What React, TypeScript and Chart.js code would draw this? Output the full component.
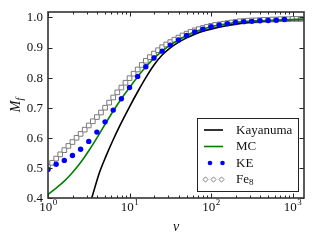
import React, { useEffect, useRef } from "react";
import { Chart, registerables } from "chart.js";
Chart.register(...registerables);

// ---- data ----
const kayanumaV = [3.44, 4.27, 5.16, 6.24, 7.53, 10, 12.59, 15.85, 19.95, 25.12, 31.62, 39.81, 50.12, 63.1, 79.43, 100, 158.5, 251.2, 398.1, 631, 1000, 1380];
const kayanumaM = [0.4, 0.484, 0.54, 0.591, 0.638, 0.703, 0.753, 0.8, 0.842, 0.875, 0.899, 0.917, 0.932, 0.944, 0.954, 0.961, 0.973, 0.982, 0.987, 0.99, 0.992, 0.993];

const mcV = [1, 1.259, 1.585, 1.995, 2.512, 3.162, 3.981, 5.012, 6.31, 7.943, 10, 12.59, 15.85, 19.95, 25.12, 31.62, 39.81, 50.12, 63.1, 79.43, 100, 158.5, 251.2, 398.1, 631, 1000, 1380];
const mcM = [0.412, 0.433, 0.456, 0.485, 0.518, 0.557, 0.6, 0.645, 0.689, 0.73, 0.767, 0.803, 0.836, 0.864, 0.888, 0.908, 0.925, 0.94, 0.952, 0.961, 0.969, 0.979, 0.986, 0.989, 0.991, 0.993, 0.994];

const keV = [1, 1.259, 1.585, 1.995, 2.512, 3.162, 3.981, 5.012, 6.31, 7.943, 10, 12.59, 15.85, 19.95, 25.12, 31.62, 39.81, 50.12, 63.1, 79.43, 100, 125.9, 158.5, 199.5, 251.2, 316.2, 398.1, 501.2, 631, 794.3];
const keM = [0.495, 0.512, 0.525, 0.541, 0.562, 0.588, 0.619, 0.653, 0.692, 0.73, 0.767, 0.804, 0.836, 0.865, 0.888, 0.908, 0.925, 0.94, 0.952, 0.961, 0.969, 0.975, 0.979, 0.983, 0.986, 0.987, 0.989, 0.99, 0.991, 0.993];

const fe8V = [1, 1.122, 1.259, 1.413, 1.585, 1.778, 1.995, 2.239, 2.512, 2.818, 3.162, 3.548, 3.981, 4.467, 5.012, 5.623, 6.31, 7.079, 7.943, 8.913,
  10, 11.22, 12.59, 14.13, 15.85, 17.78, 19.95, 22.39, 25.12, 28.18, 31.62, 35.48, 39.81, 44.67, 50.12, 56.23, 63.1, 70.79, 79.43, 89.13,
  100, 112.2, 125.9, 141.3, 158.5, 177.8, 199.5, 223.9, 251.2, 281.8, 316.2, 354.8, 398.1, 446.7, 501.2, 562.3, 631, 707.9, 794.3, 891.3,
  1000, 1122, 1259];
const fe8M = [0.503, 0.517, 0.531, 0.545, 0.559, 0.573, 0.586, 0.6, 0.613, 0.627, 0.641, 0.655, 0.669, 0.684, 0.7, 0.717, 0.734, 0.751, 0.767, 0.783,
  0.798, 0.813, 0.827, 0.842, 0.856, 0.868, 0.88, 0.891, 0.901, 0.91, 0.918, 0.926, 0.933, 0.94, 0.946, 0.952, 0.957, 0.961, 0.965, 0.969,
  0.972, 0.975, 0.977, 0.979, 0.981, 0.983, 0.985, 0.987, 0.988, 0.989, 0.99, 0.99, 0.991, 0.992, 0.992, 0.993, 0.993, 0.994, 0.994, 0.994,
  0.995, 0.995, 0.995];

const xMajor = [1, 10, 100, 1000];
const xMajorExp = ["0", "1", "2", "3"];
const xMinor = [2, 3, 4, 5, 6, 7, 8, 9, 20, 30, 40, 50, 60, 70, 80, 90, 200, 300, 400, 500, 600, 700, 800, 900];
const yTicks = [0.4, 0.5, 0.6, 0.7, 0.8, 0.9, 1.0];
const yTickLabels = ["0.4", "0.5", "0.6", "0.7", "0.8", "0.9", "1.0"];
const seriesNames = ["Kayanuma", "MC", "KE", "Fe"];

const FONT = "'Liberation Serif', 'Times New Roman', serif";

const pts = (xs: number[], ys: number[]) => xs.map((x, i) => ({ x, y: ys[i] }));

const mplPlugin = {
  id: "mplDecor",
  afterDatasetsDraw(chart: any) {
    const { ctx, chartArea: a, scales } = chart;
    const x = scales.x, y = scales.y;
    ctx.save();
    const seg = (x1: number, y1: number, x2: number, y2: number) => {
      ctx.beginPath(); ctx.moveTo(x1, y1); ctx.lineTo(x2, y2); ctx.stroke();
    };
    ctx.strokeStyle = "#222";
    ctx.lineWidth = 1;
    for (const v of xMajor) {
      const px = Math.round(x.getPixelForValue(v)) + 0.5;
      seg(px, a.bottom, px, a.bottom - 4.5);
      seg(px, a.top, px, a.top + 4.5);
    }
    for (const v of xMinor) {
      const px = Math.round(x.getPixelForValue(v)) + 0.5;
      seg(px, a.bottom, px, a.bottom - 2.5);
      seg(px, a.top, px, a.top + 2.5);
    }
    for (const v of yTicks) {
      const py = Math.round(y.getPixelForValue(v)) + 0.5;
      seg(a.left, py, a.left + 4.5, py);
      seg(a.right, py, a.right - 4.5, py);
    }
    // legend
    const lx = 197, ly = 118, lw = 101, lh = 73;
    ctx.fillStyle = "#fff";
    ctx.fillRect(lx, ly, lw, lh);
    ctx.strokeStyle = "#222";
    ctx.lineWidth = 1;
    ctx.strokeRect(lx + 0.5, ly + 0.5, lw, lh);
    const rows = [130, 146.5, 163, 179.5];
    ctx.lineWidth = 1.6;
    ctx.strokeStyle = "#000";
    seg(204, rows[0], 223, rows[0]);
    ctx.strokeStyle = "#008000";
    seg(204, rows[1], 223, rows[1]);
    ctx.fillStyle = "#0000ff";
    for (const cx of [210, 222.5]) {
      ctx.beginPath(); ctx.arc(cx, rows[2], 2.3, 0, Math.PI * 2); ctx.fill();
    }
    ctx.strokeStyle = "#808080";
    ctx.lineWidth = 1;
    ctx.fillStyle = "#fff";
    for (const cx of [205.5, 213.5, 221.5]) {
      const r = 2.6;
      ctx.beginPath();
      ctx.moveTo(cx, rows[3] - r); ctx.lineTo(cx + r, rows[3]); ctx.lineTo(cx, rows[3] + r); ctx.lineTo(cx - r, rows[3]); ctx.closePath();
      ctx.fill(); ctx.stroke();
    }
    ctx.fillStyle = "#111";
    ctx.font = `13px ${FONT}`;
    ctx.textAlign = "left";
    ctx.textBaseline = "middle";
    for (let i = 0; i < 4; i++) ctx.fillText(seriesNames[i], 236, rows[i] + 0.5);
    const feW = ctx.measureText(seriesNames[3]).width;
    ctx.font = `9px ${FONT}`;
    ctx.fillText("8", 236 + feW, rows[3] + 3.5);

    // frame
    ctx.strokeStyle = "#333";
    ctx.lineWidth = 1.6;
    ctx.strokeRect(a.left, a.top, a.right - a.left, a.bottom - a.top);

    // y tick labels
    ctx.fillStyle = "#111";
    ctx.font = `13px ${FONT}`;
    ctx.textAlign = "right";
    ctx.textBaseline = "middle";
    yTicks.forEach((v, i) => ctx.fillText(yTickLabels[i], a.left - 5, y.getPixelForValue(v) + 0.5));
    // x tick labels 10^n
    ctx.textBaseline = "alphabetic";
    ctx.textAlign = "left";
    xMajor.forEach((v, i) => {
      const px = x.getPixelForValue(v);
      ctx.font = `13px ${FONT}`;
      const w1 = ctx.measureText("10").width;
      ctx.font = `9px ${FONT}`;
      const w2 = ctx.measureText(xMajorExp[i]).width;
      const start = px - (w1 + w2) / 2;
      ctx.font = `13px ${FONT}`;
      ctx.fillText("10", start, 211);
      ctx.font = `9px ${FONT}`;
      ctx.fillText(xMajorExp[i], start + w1 + 0.5, 205);
    });
    // axis titles
    ctx.font = `italic 14px ${FONT}`;
    ctx.textAlign = "center";
    ctx.textBaseline = "middle";
    ctx.fillText("v", 176, 227);
    ctx.save();
    ctx.translate(16, 105);
    ctx.rotate(-Math.PI / 2);
    ctx.font = `italic 14px ${FONT}`;
    const mw = ctx.measureText("M").width;
    ctx.font = `italic 10px ${FONT}`;
    const fw = ctx.measureText("f").width;
    const s = -(mw + fw) / 2;
    ctx.textAlign = "left";
    ctx.textBaseline = "alphabetic";
    ctx.font = `italic 14px ${FONT}`;
    ctx.fillText("M", s, 4);
    ctx.font = `italic 10px ${FONT}`;
    ctx.fillText("f", s + mw, 7);
    ctx.restore();
    ctx.restore();
  },
};

export default function App() {
  const ref = useRef<HTMLCanvasElement | null>(null);
  useEffect(() => {
    document.body.style.margin = "0";
    const canvas = ref.current;
    if (!canvas) return;
    const chart = new Chart(canvas, {
      type: "scatter",
      data: {
        datasets: [
          {
            label: "KE",
            data: pts(keV, keM),
            showLine: false,
            pointStyle: "circle",
            pointRadius: 2.7,
            pointBorderWidth: 0,
            pointBackgroundColor: "#0000ff",
            borderColor: "#0000ff",
            order: 0,
          },
          {
            label: "MC",
            data: pts(mcV, mcM),
            showLine: true,
            borderColor: "#008000",
            borderWidth: 1.6,
            pointRadius: 0,
            cubicInterpolationMode: "monotone",
            order: 1,
          },
          {
            label: "Kayanuma",
            data: pts(kayanumaV, kayanumaM),
            showLine: true,
            borderColor: "#000000",
            borderWidth: 1.6,
            pointRadius: 0,
            cubicInterpolationMode: "monotone",
            order: 2,
          },
          {
            label: "Fe8",
            data: pts(fe8V, fe8M),
            showLine: false,
            pointStyle: "rect",
            pointRadius: 3.3,
            pointBorderWidth: 1,
            pointBorderColor: "#7a7a7a",
            pointBackgroundColor: "#ffffff",
            order: 3,
          },
        ],
      },
      options: {
        responsive: false,
        animation: false,
        events: [],
        layout: { padding: { left: 48, right: 16, top: 12, bottom: 42 } },
        plugins: { legend: { display: false }, tooltip: { enabled: false } },
        scales: {
          x: { type: "logarithmic", min: 1, max: 1380, display: false },
          y: { type: "linear", min: 0.4, max: 1.018, display: false },
        },
      },
      plugins: [mplPlugin],
    });
    return () => chart.destroy();
  }, []);
  return (
    <div style={{ position: "absolute", left: 0, top: 0, width: 320, height: 240, background: "#fff" }}>
      <canvas ref={ref} width={320} height={240} style={{ width: 320, height: 240 }} />
    </div>
  );
}
